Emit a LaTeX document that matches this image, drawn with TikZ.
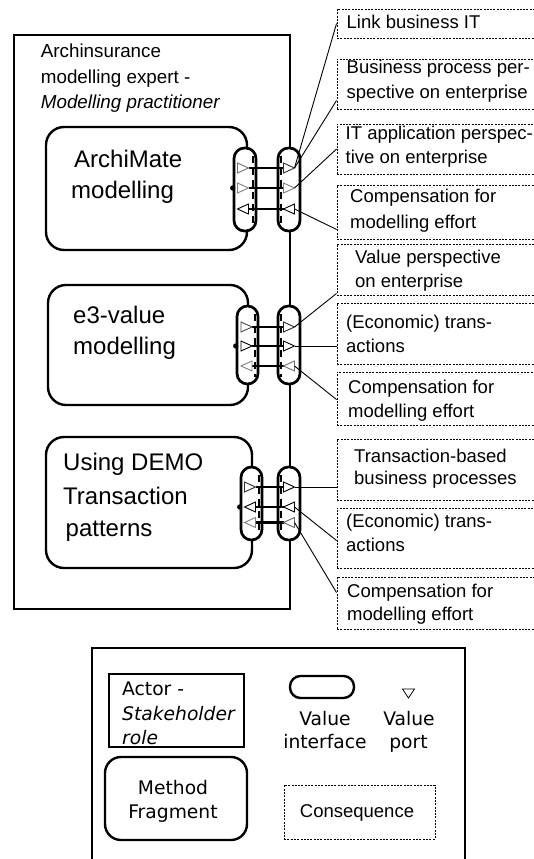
\documentclass[tikz,border=0pt]{standalone}
\usepackage{fontspec}
\setmainfont{Liberation Sans}
\newfontfamily\dejavu{DejaVu Sans}
\usetikzlibrary{calc}
\begin{document}
\begin{tikzpicture}[x=1pt,y=-1pt,
  txt/.style={inner sep=0pt, anchor=base west, font=\fontsize{18.5}{22}\selectfont},
  ttl/.style={inner sep=0pt, anchor=base west, font=\fontsize{18.8}{24}\selectfont},
  mtxt/.style={inner sep=0pt, anchor=base west, font=\fontsize{24}{30}\selectfont},
  ltxt/.style={inner sep=0pt, anchor=base, font=\dejavu\fontsize{18.7}{23}\selectfont},
  actorbox/.style={draw, line width=2.4pt, inner sep=0pt},
  methodbox/.style={draw, line width=2.4pt, rounded corners=18pt, fill=white, inner sep=0pt},
  pill/.style={draw, line width=2.7pt, rounded corners=10.5pt, fill=white, inner sep=0pt, minimum width=22pt},
  conseq/.style={draw, line width=0.9pt, dash pattern=on 2pt off 1.3pt, inner sep=0pt, minimum width=200pt},
  conn/.style={line width=0.9pt},
  flow/.style={line width=2.6pt},
  pdash/.style={line width=2.6pt, dash pattern=on 7pt off 5pt},
  pics/rport/.style={code={\draw[line width=0.9pt, fill=white, draw=#1] (-5.5,-5) -- (5.5,0) -- (-5.5,5) -- cycle;}},
  pics/lport/.style={code={\draw[line width=0.9pt, fill=white, draw=#1] (5.5,-5) -- (-5.5,0) -- (5.5,5) -- cycle;}},
]
\useasboundingbox (0,0) rectangle (533,859);

% actor
\node[actorbox, minimum width=276pt, minimum height=574pt] (actor) at (152,322) {};
\node[ttl] (t1) at (40.7,57) {Archinsurance};
\node[ttl] (t2) at (40.7,83) {modelling expert -};
\node[ttl] (t3) at (40.7,108) {\itshape Modelling practitioner};

% method fragments
\node[methodbox, minimum width=201pt, minimum height=123pt] (m1) at (146.5,188.5) {};
\node[methodbox, minimum width=200pt, minimum height=120pt] (m2) at (148,345) {};
\node[methodbox, minimum width=206pt, minimum height=131pt] (m3) at (149,502.5) {};
\node[mtxt] (m1a) at (74,167.5) {ArchiMate};
\node[mtxt] (m1b) at (71,198.5) {modelling};
\node[mtxt] (m2a) at (73,323.3) {e3-value};
\node[mtxt] (m2b) at (73,354) {modelling};
\node[mtxt] (m3a) at (63,470) {Using DEMO};
\node[mtxt] (m3b) at (63,504) {Transaction};
\node[mtxt] (m3c) at (65.5,536) {patterns};

% value interfaces
\node[pill, minimum height=83pt] (p1l) at (245,189.5) {};
\node[pill, minimum height=83pt] (p1r) at (289,189.5) {};
\node[pill, minimum width=21pt, minimum height=78pt] (p2l) at (247.5,345) {};
\node[pill, minimum height=78pt] (p2r) at (289,345) {};
\node[pill, minimum width=21pt, minimum height=73pt] (p3l) at (251.5,503.5) {};
\node[pill, minimum height=73pt] (p3r) at (289,503.5) {};

% dashed inner lines
\draw[pdash] ($(p1l.north east)+(-4.5,9)$) -- ($(p1l.south east)+(-4.5,-8)$);
\draw[pdash] ($(p1r.north west)+(4.5,9)$) -- ($(p1r.south west)+(4.5,-8)$);
\draw[pdash] ($(p2l.north east)+(-4.5,9)$) -- ($(p2l.south east)+(-4.5,-8)$);
\draw[pdash] ($(p2r.north west)+(4.5,9)$) -- ($(p2r.south west)+(4.5,-8)$);
\draw[pdash] ($(p3l.north east)+(-4.5,9)$) -- ($(p3l.south east)+(-4.5,-8)$);
\draw[pdash] ($(p3r.north west)+(4.5,9)$) -- ($(p3r.south west)+(4.5,-8)$);

% port coordinates
\coordinate (a11l) at (243,168);   \coordinate (a11r) at (289,168);
\coordinate (a12l) at (243,188);   \coordinate (a12r) at (289,188);
\coordinate (a13l) at (243,209);   \coordinate (a13r) at (289,209);
\coordinate (a21l) at (246.5,327); \coordinate (a21r) at (289,327);
\coordinate (a22l) at (246.5,346); \coordinate (a22r) at (289,346);
\coordinate (a23l) at (246.5,366); \coordinate (a23r) at (289,366);
\coordinate (a31l) at (250,487);   \coordinate (a31r) at (289,487);
\coordinate (a32l) at (250,507);   \coordinate (a32r) at (289,507);
\coordinate (a33l) at (250,522.5); \coordinate (a33r) at (289,522.5);

% flows
\foreach \p in {11,12,13,21,22,23,31,32,33}{
  \draw[flow] ([xshift=5.5pt]a\p l) -- ([xshift=-5.5pt]a\p r);
}

% ports
\pic at (a11l) {rport=black!55};
\pic at (a11r) {rport=black!80};
\pic at (a12l) {rport=black!50};
\pic at (a12r) {rport=black!50};
\pic at (a13l) {lport=black};
\pic at (a13r) {lport=black};
\pic at (a21l) {rport=black!70};
\pic at (a21r) {rport=black!85};
\pic at (a22l) {rport=black};
\pic at (a22r) {rport=black};
\pic at (a23l) {lport=black!50};
\pic at (a23r) {lport=black!55};
\pic at (a31l) {rport=black!80};
\pic at (a31r) {rport=black};
\pic at (a32l) {lport=black};
\pic at (a32r) {lport=black};
\pic at (a33l) {lport=black!50};
\pic at (a33r) {lport=black!60};

% dots
\fill (p1l.west |- a12l) circle (2.6);
\fill (p2l.west |- a22l) circle (2.6);
\fill (p3l.west |- a32l) circle (2.6);

% consequences
\node[conseq, minimum height=29pt] (c1) at (437,23.5) {};
\node[conseq, minimum height=50pt] (c2) at (437,84) {};
\node[conseq, minimum height=50pt] (c3) at (437,149) {};
\node[conseq, minimum height=54pt] (c4) at (437,212) {};
\node[conseq, minimum height=51pt] (c5) at (437,269.5) {};
\node[conseq, minimum height=61pt] (c6) at (437,333.5) {};
\node[conseq, minimum height=53pt] (c7) at (437,398.5) {};
\node[conseq, minimum height=61pt] (c8) at (437,469.5) {};
\node[conseq, minimum height=60pt] (c9) at (437,538) {};
\node[conseq, minimum height=52pt] (c10) at (437,603) {};

\node[txt] (c1a) at (346.5,28.3) {Link business IT};
\node[txt] (c2a) at (346.5,74) {Business process per-};
\node[txt] (c2b) at (346.5,98.5) {spective on enterprise};
\node[txt] (c3a) at (345.5,139) {IT application perspec-};
\node[txt] (c3b) at (345.5,163) {tive on enterprise};
\node[txt] (c4a) at (350,202) {Compensation for};
\node[txt] (c4b) at (350,228) {modelling effort};
\node[txt] (c5a) at (355,263) {Value perspective};
\node[txt] (c5b) at (355,287) {on enterprise};
\node[txt] (c6a) at (346,328) {(Economic) trans-};
\node[txt] (c6b) at (346,352) {actions};
\node[txt] (c7a) at (348,393) {Compensation for};
\node[txt] (c7b) at (348,417) {modelling effort};
\node[txt] (c8a) at (354,462) {Transaction-based};
\node[txt] (c8b) at (354,484) {business processes};
\node[txt] (c9a) at (346,527) {(Economic) trans-};
\node[txt] (c9b) at (346,551) {actions};
\node[txt] (c10a) at (347,597) {Compensation for};
\node[txt] (c10b) at (347,620) {modelling effort};

% connectors
\draw[conn] ([xshift=5.5pt]a11r) -- (c1.west);
\draw[conn] ([xshift=5.5pt]a11r) -- ($(c2.south west)+(0,-9)$);
\draw[conn] ([xshift=5.5pt]a12r) -- (c3.west);
\draw[conn] ([xshift=5.5pt]a13r) -- ($(c4.south west)+(0,-10)$);
\draw[conn] ([xshift=5.5pt]a21r) -- ($(c5.south west)+(0,-2)$);
\draw[conn] ([xshift=5.5pt]a22r) -- (c6.west |- a22r);
\draw[conn] ([xshift=5.5pt]a23r) -- ($(c7.north west)+(0,28)$);
\draw[conn] ([xshift=5.5pt]a31r) -- (c8.west |- a31r);
\draw[conn] ([xshift=5.5pt]a32r) -- ($(c9.north west)+(0,33)$);
\draw[conn] ([xshift=5.5pt]a33r) -- ($(c10.north west)+(0,16)$);

% legend
\coordinate (lg1) at (92,870);
\coordinate (lg2) at (92,648);
\coordinate (lg3) at (465,648);
\coordinate (lg4) at (465,870);
\draw[line width=2.4pt] (lg1) -- (lg2) -- (lg3) -- (lg4);
\node[actorbox, minimum width=135pt, minimum height=73pt] (la) at (176.5,710.5) {};
\node[ltxt, anchor=base west] (la1) at (122,695.5) {Actor -};
\node[ltxt, anchor=base west] (la2) at (122,720.5) {\itshape Stakeholder};
\node[ltxt, anchor=base west] (la3) at (122,744) {\itshape role};
\node[methodbox, rounded corners=16pt, minimum width=142pt, minimum height=83pt] (lm) at (176,798.5) {};
\node[ltxt] (lm1) at (173,794) {Method};
\node[ltxt] (lm2) at (173,818) {Fragment};
\node[pill, line width=2.4pt, minimum width=64pt, minimum height=22pt] (lv) at (322,687) {};
\node[ltxt] (lv1) at (325,725.5) {Value};
\node[ltxt] (lv2) at (325,748.3) {interface};
\coordinate (vp) at (408.5,693);
\draw[line width=0.8pt] ($(vp)+(-6,-4)$) -- ($(vp)+(6,-4)$) -- ($(vp)+(0,5)$) -- cycle;
\node[ltxt] (lp1) at (409,725.5) {Value};
\node[ltxt] (lp2) at (408.5,748.3) {port};
\node[conseq, minimum width=151pt, minimum height=54pt] (lc) at (359.5,812) {};
\node[txt, anchor=base] (lc1) at (357,817) {Consequence};
\end{tikzpicture}
\end{document}
